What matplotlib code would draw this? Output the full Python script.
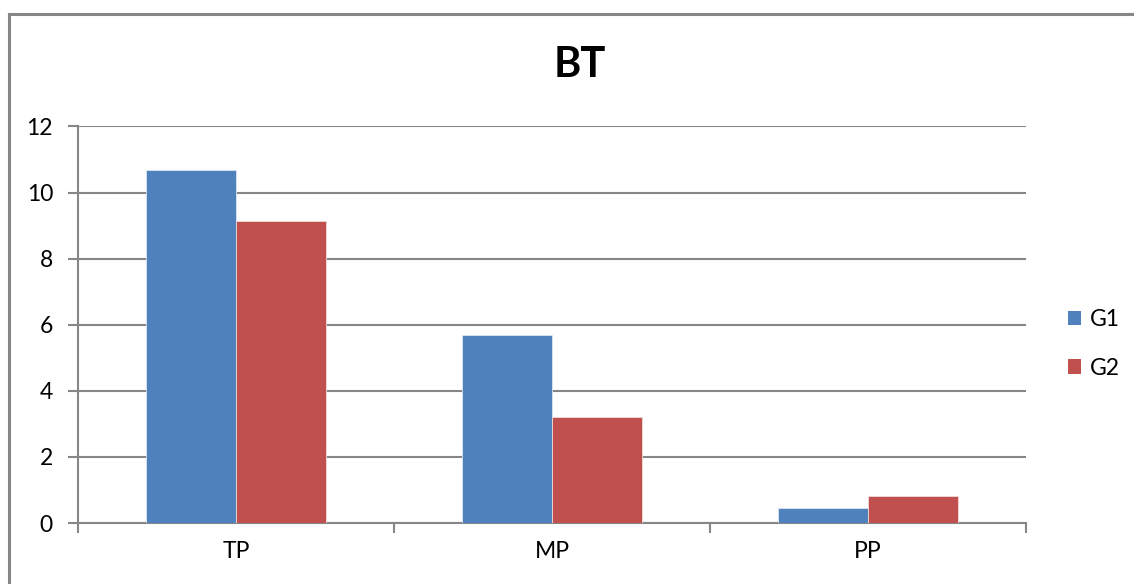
import matplotlib
matplotlib.use("Agg")
import matplotlib.pyplot as plt
import numpy as np
from matplotlib.lines import Line2D
from matplotlib.patches import Patch

plt.rcParams['font.family'] = ['Lato', 'DejaVu Sans']

categories = ["TP", "MP", "PP"]
series_names = ["G1", "G2"]
g1_values = [10.68, 5.68, 0.45]
g2_values = [9.15, 3.2, 0.83]
y_ticks = [0, 2, 4, 6, 8, 10, 12]

blue = "#4F81BD"
red = "#C0504D"
grid_col = "#868686"

W, H = 1134, 584
fig = plt.figure(figsize=(W / 100, H / 100), dpi=100)
fig.patch.set_facecolor("white")

ax = fig.add_axes([78 / W, (H - 523) / H, 948 / W, 396.5 / H])

x = np.arange(len(categories))
bw = 0.285
ax.bar(x - bw / 2, g1_values, width=bw, color=blue, edgecolor="#DCE6F2", linewidth=0.6, zorder=3)
ax.bar(x + bw / 2, g2_values, width=bw, color=red, edgecolor="#F2DCDB", linewidth=0.6, zorder=3)

ax.set_xlim(-0.5, len(categories) - 0.5)
ax.set_ylim(0, 12)
ax.set_yticks(y_ticks)
ax.set_yticklabels([str(v) for v in y_ticks], fontsize=16.5)

# category labels at centers, tick marks at boundaries
ax.set_xticks(np.arange(-0.5, len(categories), 1.0))
ax.set_xticklabels([])
ax.set_xticks(x, minor=True)
ax.set_xticklabels(categories, minor=True, fontsize=16.5)
ax.tick_params(axis="x", which="minor", length=0, pad=13)
ax.tick_params(axis="x", which="major", direction="out", length=7, width=1.5, color=grid_col)
ax.tick_params(axis="y", direction="out", length=7, width=1.5, color=grid_col, pad=11)

ax.yaxis.grid(True, color=grid_col, linewidth=1.5, zorder=0)
ax.set_axisbelow(True)
for s in ["top", "right"]:
    ax.spines[s].set_visible(False)
for s in ["left", "bottom"]:
    ax.spines[s].set_color(grid_col)
    ax.spines[s].set_linewidth(1.5)

fig.text(580 / W, 1 - 65 / H, "BT", fontsize=30, fontweight="bold", ha="center", va="center")

handles = [Patch(facecolor=blue, edgecolor="none"), Patch(facecolor=red, edgecolor="none")]
fig.legend(handles, series_names, loc="center left", bbox_to_anchor=(1047 / W, 1 - 344 / H),
           frameon=False, fontsize=16.5, handlelength=0.6, handleheight=0.6,
           handletextpad=0.35, labelspacing=1.2)

# outer chart border (top and left edges)
fig.add_artist(Line2D([8.5 / W, 1.0], [1 - 14 / H, 1 - 14 / H], color=grid_col, linewidth=2.2,
                      transform=fig.transFigure))
fig.add_artist(Line2D([8.5 / W, 8.5 / W], [0, 1 - 14 / H], color=grid_col, linewidth=2.2,
                      transform=fig.transFigure))

fig.savefig("out.png", dpi=100, facecolor="white")
